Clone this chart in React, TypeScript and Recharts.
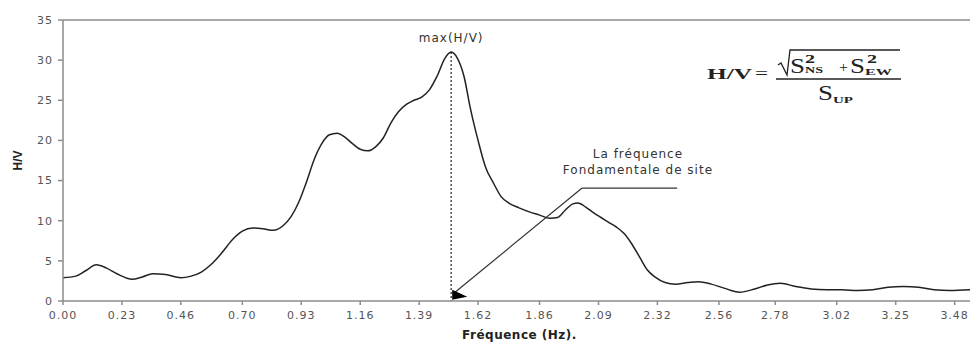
import React from 'react';
import { LineChart, Line, XAxis, YAxis, ReferenceLine, ReferenceDot } from 'recharts';

// H/V spectral ratio curve (frequency in Hz, ratio)
const freq = [
    0.0, 0.05, 0.09, 0.13, 0.17, 0.21, 0.27, 0.31, 0.35, 0.4, 0.46, 0.5, 0.54, 0.58, 0.62, 0.66, 0.7, 0.74,
    0.78, 0.82, 0.86, 0.89, 0.92, 0.95, 0.98, 1.01, 1.04, 1.07, 1.1, 1.13, 1.16, 1.19, 1.22, 1.25, 1.28, 1.31,
    1.34, 1.37, 1.4, 1.43, 1.46, 1.49, 1.515, 1.54, 1.565, 1.59, 1.62, 1.65, 1.68, 1.71, 1.74, 1.78, 1.82, 1.86,
    1.9, 1.93, 1.96, 1.99, 2.01, 2.04, 2.07, 2.1, 2.13, 2.16, 2.19, 2.22, 2.25, 2.28, 2.31, 2.35, 2.39, 2.44,
    2.48, 2.53, 2.58, 2.64, 2.7, 2.75, 2.8, 2.86, 2.92, 2.98, 3.04, 3.1, 3.16, 3.22, 3.28, 3.34, 3.4, 3.46, 3.54,
];
const hv = [
    2.9, 3.1, 3.8, 4.5, 4.1, 3.4, 2.7, 3.0, 3.4, 3.3, 2.9, 3.1, 3.6, 4.6, 6.0, 7.6, 8.7, 9.1,
    9.0, 8.8, 9.4, 10.5, 12.3, 14.8, 17.6, 19.6, 20.7, 20.9, 20.4, 19.6, 18.9, 18.7, 19.2, 20.3, 22.2, 23.6,
    24.5, 25.0, 25.4, 26.3, 28.0, 30.2, 31.0, 30.2, 28.0, 24.0, 20.0, 16.6, 14.7, 13.0, 12.2, 11.6, 11.1, 10.7,
    10.3, 10.4, 11.3, 12.1, 12.2, 11.7, 11.0, 10.4, 9.8, 9.2, 8.4, 7.1, 5.5, 3.9, 3.0, 2.3, 2.1, 2.3,
    2.4, 2.1, 1.6, 1.1, 1.5, 2.0, 2.2, 1.8, 1.5, 1.4, 1.4, 1.3, 1.4, 1.7, 1.8, 1.7, 1.4, 1.3, 1.4,
];
const xTickLabels = [
    '0.00', '0.23', '0.46', '0.70', '0.93', '1.16', '1.39', '1.62', '1.86', '2.09', '2.32', '2.56', '2.78', '3.02', '3.25', '3.48',
];
const yTicks = [0, 5, 10, 15, 20, 25, 30, 35];

// annotation anchors (Hz, H/V)
const arrowTip = { f: 1.523, hv: 0.9 };
const arrowElbow = { f: 2.026, hv: 14.07 };
const arrowTail = { f: 2.397, hv: 14.07 };
const noteAnchor = { f: 2.244, hv: 17.3 };

const data = freq.map((f, i) => ({ f, hv: hv[i] }));
const xTicks = xTickLabels.map(Number);
const peakIdx = hv.indexOf(Math.max(...hv));
const peak = data[peakIdx];

const tickFont = { fontSize: 11, fill: '#555', fontFamily: 'DejaVu Sans, sans-serif', letterSpacing: 1 };

const NoteText = ({ viewBox, lines, gap = 16 }: any) => {
    const cx = viewBox.x + viewBox.width / 2;
    const cy = viewBox.y + viewBox.height / 2 - ((lines.length - 1) * gap) / 2;
    return (
        <text textAnchor="middle" fill="#333" fontSize={12} fontFamily="DejaVu Sans, sans-serif" letterSpacing={1}>
            {lines.map((l: string, i: number) => (
                <tspan key={i} x={cx} y={cy + i * gap} dy="0.35em">{l}</tspan>
            ))}
        </text>
    );
};

const YTitle = ({ viewBox }: any) => {
    const x = viewBox.x + 18;
    const y = viewBox.y + viewBox.height / 2;
    return (
        <text x={x} y={y} transform={`rotate(-90 ${x} ${y})`} textAnchor="middle" dy="0.35em"
            fontSize={12} fontWeight="bold" fill="#222" fontFamily="Liberation Sans, Arial, sans-serif">
            H/V
        </text>
    );
};

const XTitle = ({ viewBox }: any) => (
    <text x={viewBox.x + viewBox.width / 2 + 3} y={viewBox.y + 34} dy="0.35em" textAnchor="middle"
        fontSize={12} fontWeight="bold" fill="#222" fontFamily="DejaVu Sans, sans-serif" letterSpacing={0.5}>
        Fréquence (Hz).
    </text>
);

const ArrowSegment = (props: any) => {
    const { x1, y1, x2, y2 } = props;
    return (
        <g>
            <line x1={x1} y1={y1} x2={x2} y2={y2} stroke="#333" strokeWidth={1.2} />
            <polygon points={`${x2 - 1},${y2 - 4} ${x2 - 1},${y2 + 6} ${x2 + 14},${y2 + 3}`} fill="#000" />
        </g>
    );
};

// H/V = sqrt(S_NS^2 + S_EW^2) / S_UP
const Formula = () => (
    <svg width={970} height={342} style={{ position: 'absolute', left: 0, top: 0, pointerEvents: 'none' }}>
        <g fill="#222" fontFamily="Liberation Serif, Times New Roman, serif">
            <text x={707} y={79} fontSize={15} fontWeight="bold" textLength={45} lengthAdjust="spacingAndGlyphs">H/V</text>
            <text x={755} y={79} fontSize={16} textLength={13} lengthAdjust="spacingAndGlyphs">=</text>
            <path d="M778 65 L781 63 L787 75 L790 50 L900 50" fill="none" stroke="#222" strokeWidth={1.3} />
            <text x={790} y={73} fontSize={21} textLength={15} lengthAdjust="spacingAndGlyphs">S</text>
            <text x={805} y={63} fontSize={13} fontWeight="bold" textLength={10} lengthAdjust="spacingAndGlyphs">2</text>
            <text x={805} y={73} fontSize={9} fontWeight="bold" textLength={18} lengthAdjust="spacingAndGlyphs">NS</text>
            <text x={839} y={72} fontSize={14} textLength={9} lengthAdjust="spacingAndGlyphs">+</text>
            <text x={850} y={73} fontSize={21} textLength={15} lengthAdjust="spacingAndGlyphs">S</text>
            <text x={867} y={63} fontSize={13} fontWeight="bold" textLength={10} lengthAdjust="spacingAndGlyphs">2</text>
            <text x={865} y={75} fontSize={9} fontWeight="bold" textLength={27} lengthAdjust="spacingAndGlyphs">EW</text>
            <line x1={776} y1={79} x2={901} y2={79} stroke="#222" strokeWidth={1.5} />
            <text x={818} y={100} fontSize={21} textLength={15} lengthAdjust="spacingAndGlyphs">S</text>
            <text x={833} y={103} fontSize={9} fontWeight="bold" textLength={20} lengthAdjust="spacingAndGlyphs">UP</text>
        </g>
    </svg>
);

const HVSpectrumChart: React.FC = () => {
    return (
        <div style={{ position: 'absolute', left: 0, top: 0, width: 970, height: 342, background: '#fff' }}>
            <LineChart width={970} height={342} data={data} margin={{ top: 20, right: 0, bottom: 0, left: 0 }}>
                <XAxis
                    dataKey="f"
                    type="number"
                    domain={[0, 3.54]}
                    ticks={xTicks}
                    interval={0}
                    tickFormatter={(v: number) => v.toFixed(2)}
                    height={41}
                    stroke="#8c8c8c"
                    strokeWidth={1.5}
                    tickSize={4}
                    tickMargin={6}
                    tick={tickFont}
                    allowDataOverflow
                    label={<XTitle />}
                />
                <YAxis
                    domain={[0, 35]}
                    ticks={yTicks}
                    interval={0}
                    width={63}
                    stroke="#8c8c8c"
                    strokeWidth={1.5}
                    tickSize={5}
                    tickMargin={5}
                    tick={tickFont}
                    label={<YTitle />}
                />
                <ReferenceLine y={35} stroke="#8c8c8c" strokeWidth={1.5} ifOverflow="extendDomain" />
                <ReferenceLine
                    segment={[{ x: peak.f, y: peak.hv }, { x: peak.f, y: 0 }]}
                    stroke="#333"
                    strokeWidth={1.3}
                    strokeDasharray="2 2"
                />
                <ReferenceLine
                    segment={[{ x: arrowElbow.f, y: arrowElbow.hv }, { x: arrowTip.f, y: arrowTip.hv }]}
                    shape={<ArrowSegment />}
                />
                <ReferenceLine
                    segment={[{ x: arrowElbow.f, y: arrowElbow.hv }, { x: arrowTail.f, y: arrowTail.hv }]}
                    stroke="#333"
                    strokeWidth={1.2}
                />
                <ReferenceDot x={peak.f} y={32.75} r={1} fill="none" stroke="none"
                    label={<NoteText lines={['max(H/V)']} />} />
                <ReferenceDot x={noteAnchor.f} y={noteAnchor.hv} r={1} fill="none" stroke="none"
                    label={<NoteText lines={['La fréquence', 'Fondamentale de site']} />} />
                <Line
                    type="monotone"
                    dataKey="hv"
                    stroke="#222"
                    strokeWidth={1.5}
                    dot={false}
                    isAnimationActive={false}
                />
            </LineChart>
            <Formula />
        </div>
    );
};

export default HVSpectrumChart;
